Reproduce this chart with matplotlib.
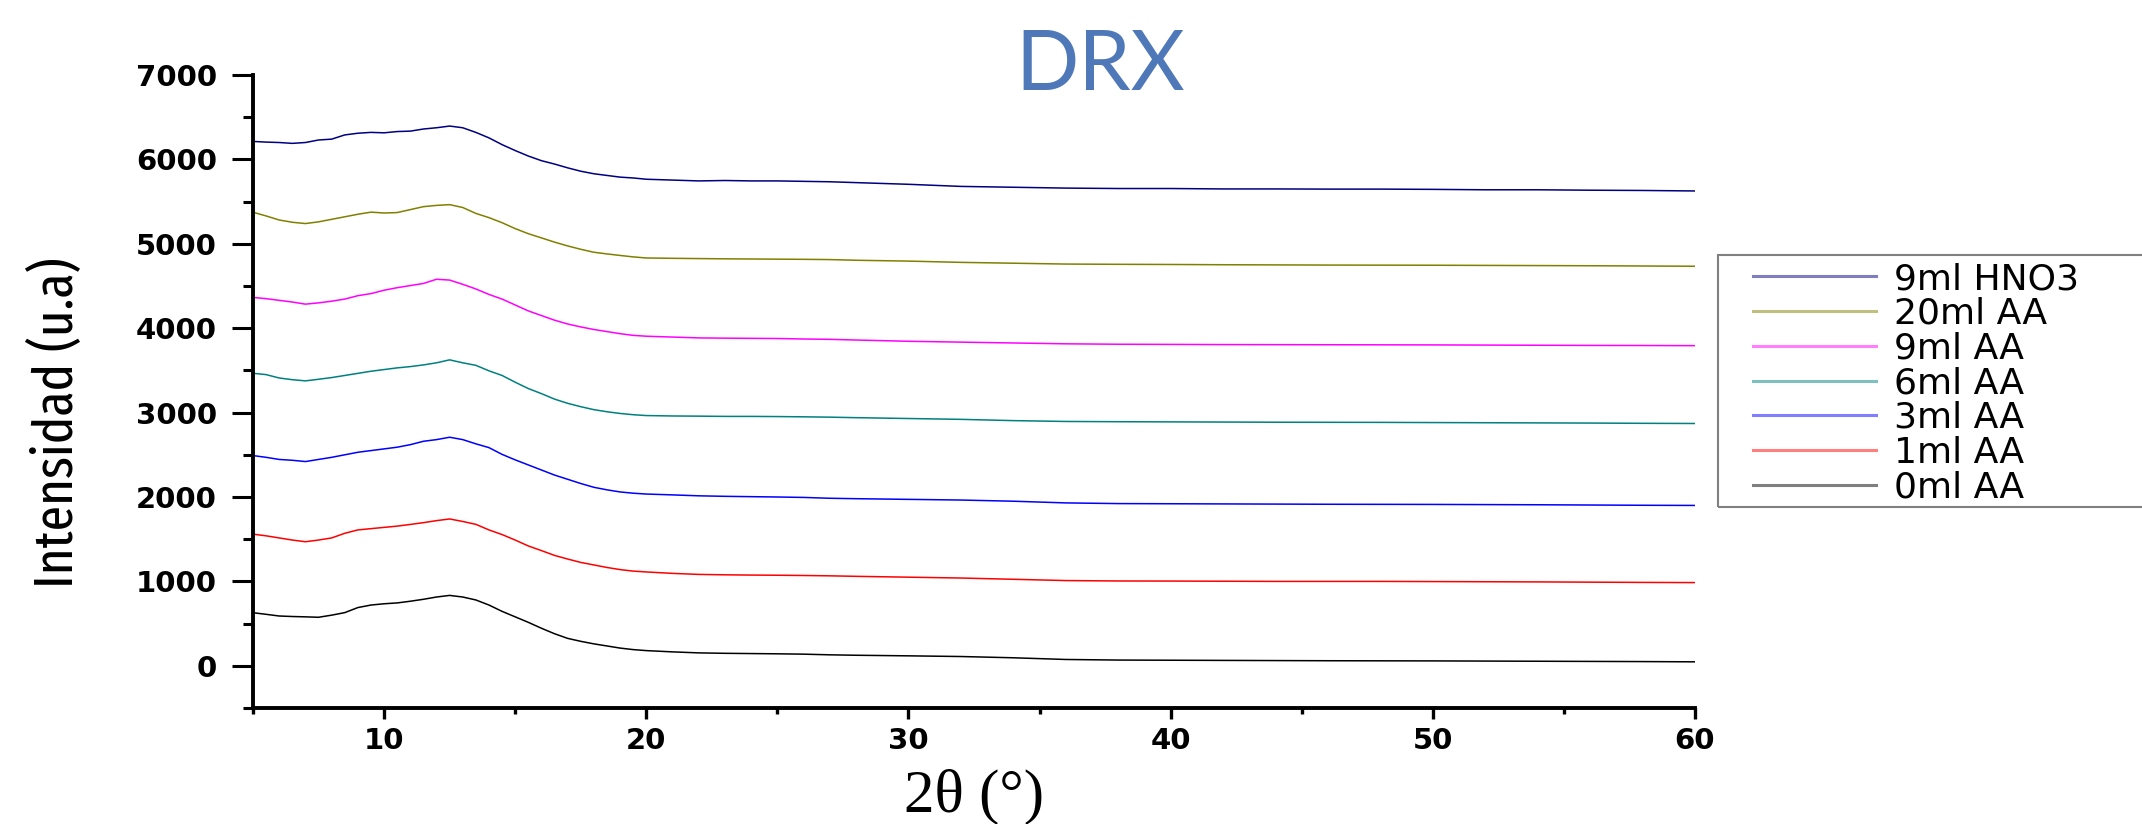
import os
import matplotlib
matplotlib.use("Agg")
import matplotlib.pyplot as plt
from matplotlib import font_manager
from matplotlib.font_manager import FontProperties
from matplotlib.ticker import MultipleLocator
from matplotlib.patches import Rectangle

# ---------------- data ----------------
two_theta = [5, 5.5, 6, 6.5, 7, 7.5, 8, 8.5, 9, 9.5, 10, 10.5, 11, 11.5, 12, 12.5,
             13, 13.5, 14, 14.5, 15, 15.5, 16, 16.5, 17, 17.5, 18, 18.5, 19, 19.5, 20,
             21, 22, 23, 24, 25, 26, 27, 28,
             30, 32, 34, 36, 38, 40, 42, 44, 46, 48, 50, 52, 54, 56, 58, 60]

aa_0ml = [629, 610, 590, 584, 580, 575, 600, 630, 690, 720, 735, 745, 765, 788, 815, 834,
          815, 780, 720, 645, 580, 515, 445, 380, 325, 290, 260, 235, 210, 192, 180,
          165, 153, 148, 145, 142, 138, 130, 125,
          118, 110, 95, 75, 68, 66, 64, 62, 60, 59, 58, 56, 54, 52, 50, 47]

aa_1ml = [1560, 1540, 1515, 1490, 1470, 1490, 1515, 1570, 1610, 1625, 1640, 1655, 1675, 1696, 1720, 1740,
          1710, 1676, 1610, 1555, 1490, 1420, 1365, 1308, 1265, 1225, 1195, 1165, 1140, 1122, 1112,
          1095, 1083, 1078, 1075, 1073, 1070, 1066, 1060,
          1050, 1040, 1025, 1010, 1005, 1004, 1002, 1000, 1000, 1000, 998, 996, 994, 991, 988, 986]

aa_3ml = [2491, 2470, 2445, 2435, 2420, 2445, 2470, 2500, 2530, 2550, 2570, 2590, 2620, 2660, 2680, 2708,
          2680, 2630, 2585, 2505, 2440, 2380, 2320, 2260, 2210, 2160, 2115, 2085, 2060, 2045, 2035,
          2025, 2014, 2008, 2004, 2000, 1995, 1985, 1980,
          1972, 1964, 1950, 1930, 1922, 1920, 1918, 1916, 1914, 1913, 1912, 1910, 1908, 1905, 1902, 1900]

aa_6ml = [3466, 3450, 3410, 3390, 3376, 3395, 3415, 3440, 3465, 3490, 3510, 3530, 3545, 3565, 3590, 3625,
          3590, 3560, 3495, 3440, 3360, 3285, 3225, 3160, 3110, 3070, 3035, 3010, 2990, 2975, 2965,
          2960, 2958, 2955, 2955, 2953, 2950, 2946, 2940,
          2930, 2920, 2905, 2895, 2892, 2890, 2888, 2886, 2885, 2884, 2882, 2880, 2878, 2876, 2873, 2871]

aa_9ml = [4365, 4350, 4330, 4310, 4285, 4300, 4320, 4345, 4385, 4410, 4450, 4480, 4505, 4530, 4580, 4570,
          4520, 4465, 4400, 4345, 4275, 4205, 4150, 4095, 4050, 4015, 3985, 3960, 3935, 3915, 3905,
          3895, 3885, 3882, 3880, 3878, 3872, 3868, 3860,
          3845, 3835, 3825, 3815, 3810, 3808, 3806, 3805, 3804, 3803, 3802, 3800, 3798, 3796, 3795, 3793]

aa_20ml = [5374, 5330, 5282, 5255, 5240, 5260, 5290, 5320, 5350, 5375, 5365, 5370, 5405, 5440, 5455, 5464,
           5430, 5360, 5310, 5250, 5180, 5120, 5070, 5020, 4975, 4935, 4900, 4880, 4862, 4845, 4832,
           4828, 4825, 4822, 4820, 4818, 4816, 4813, 4805,
           4795, 4780, 4770, 4760, 4757, 4755, 4752, 4750, 4748, 4747, 4746, 4744, 4742, 4740, 4737, 4734]

hno3_9ml = [6213, 6205, 6200, 6190, 6200, 6230, 6240, 6290, 6310, 6320, 6315, 6330, 6335, 6360, 6375, 6395,
            6375, 6320, 6255, 6175, 6105, 6040, 5985, 5945, 5900, 5860, 5830, 5810, 5790, 5780, 5765,
            5755, 5745, 5750, 5745, 5745, 5740, 5735, 5725,
            5705, 5680, 5670, 5660, 5655, 5655, 5650, 5650, 5648, 5648, 5645, 5640, 5640, 5635, 5632, 5626]

series_labels = ["0ml AA", "1ml AA", "3ml AA", "6ml AA", "9ml AA", "20ml AA", "9ml HNO3"]
series_values = [aa_0ml, aa_1ml, aa_3ml, aa_6ml, aa_9ml, aa_20ml, hno3_9ml]
series_colors = ["#000000", "#FF0000", "#0000FF", "#008080", "#FF00FF", "#808000", "#000080"]

x_ticks = [10, 20, 30, 40, 50, 60]
y_ticks = [0, 1000, 2000, 3000, 4000, 5000, 6000, 7000]

# ---------------- fonts ----------------
names = {f.name for f in font_manager.fontManager.ttflist}


def pick_narrow():
    best = None
    for f in font_manager.fontManager.ttflist:
        fn = os.path.basename(f.fname).lower().replace("-", "").replace("_", "")
        nm = f.name.lower()
        if f.style != "normal":
            continue
        if any(k in fn for k in ("bold", "light", "thin", "black", "medium", "semi", "mono")):
            continue
        if "serif" in fn and "sans" not in fn:
            continue
        if "extracondensed" in fn:
            rank = 0
        elif "narrow" in fn or "narrow" in nm:
            rank = 1
        elif "condensed" in fn or "condensed" in nm or str(f.stretch) == "condensed":
            rank = 2
        else:
            continue
        if best is None or rank < best[0]:
            best = (rank, f.fname)
    return best[1] if best else None


narrow_path = pick_narrow()
tick_family = "DejaVu Sans"
serif_family = "Liberation Serif" if "Liberation Serif" in names else "DejaVu Serif"
title_family = "Lato" if "Lato" in names else "DejaVu Sans"

# ---------------- figure ----------------
W, H = 2142, 824
fig = plt.figure(figsize=(W / 100, H / 100), dpi=100)
fig.patch.set_facecolor("white")

ax_l, ax_r, ax_t, ax_b = 253, 1695, 75, 708
ax = fig.add_axes([ax_l / W, 1 - ax_b / H, (ax_r - ax_l) / W, (ax_b - ax_t) / H])

for vals, lab, col in zip(series_values, series_labels, series_colors):
    ax.plot(two_theta, vals, color=col, lw=1.1, label=lab)

ax.set_xlim(5, 60)
ax.set_ylim(-500, 7000)
ax.set_xticks(x_ticks)
ax.set_yticks(y_ticks)
ax.xaxis.set_minor_locator(MultipleLocator(5))
ax.yaxis.set_minor_locator(MultipleLocator(500))

for s in ["top", "right"]:
    ax.spines[s].set_visible(False)
for s in ["left", "bottom"]:
    ax.spines[s].set_linewidth(2.8)

ax.tick_params(axis="y", which="major", direction="out", length=15, width=2.2,
               labelsize=21, pad=11)
ax.tick_params(axis="y", which="minor", direction="out", length=7.5, width=2.2)
ax.tick_params(axis="x", which="major", direction="out", length=8, width=2.4,
               labelsize=21, pad=6)
ax.tick_params(axis="x", which="minor", direction="out", length=4.5, width=2.4)
for lbl in ax.get_xticklabels() + ax.get_yticklabels():
    lbl.set_family(tick_family)
    lbl.set_fontweight("bold")

ax.set_xlabel("2θ (°)", fontsize=44, family=serif_family)
ax.xaxis.set_label_coords(0.5, -(797 - ax_b) / (ax_b - ax_t))
ax.xaxis.label.set_verticalalignment("center")

if narrow_path:
    yprop = FontProperties(fname=narrow_path, size=46)
else:
    yprop = FontProperties(family="DejaVu Sans", stretch="condensed", size=46)
ax.set_ylabel("Intensidad (u.a)", fontproperties=yprop)
ax.yaxis.set_label_coords((57 - ax_l) / (ax_r - ax_l), (ax_b - 423) / (ax_b - ax_t))
ax.yaxis.label.set_verticalalignment("center")
ax.yaxis.label.set_horizontalalignment("center")

# title
fig.text(1100 / W, 1 - 90 / H, "DRX", fontsize=60, color="#4F78B8",
         family=title_family, ha="center", va="baseline")

# legend (reverse order, top = 9ml HNO3)
handles, labels = ax.get_legend_handles_labels()
leg = ax.legend(handles[::-1], labels[::-1], loc="upper left",
                bbox_to_anchor=(1753 / W, 1 - 262 / H), bbox_transform=fig.transFigure,
                frameon=False, handlelength=3.4, handletextpad=0.5,
                labelspacing=0.02, borderpad=0, borderaxespad=0,
                prop={"family": tick_family, "size": 26})
for ln in leg.get_lines():
    ln.set_linewidth(2.2)
    ln.set_alpha(0.5)

fig.add_artist(Rectangle((1718 / W, 1 - 507 / H), (2160 - 1718) / W, (507 - 255) / H,
                         transform=fig.transFigure, fill=False, edgecolor="#808080",
                         lw=1.5, clip_on=False))

# fit the y label length to the reference (about 330 px tall)
fig.canvas.draw()
ext = ax.yaxis.label.get_window_extent(fig.canvas.get_renderer())
if ext.height > 0:
    yprop.set_size(yprop.get_size() * 330.0 / ext.height)
    ax.yaxis.label.set_fontproperties(yprop)

fig.savefig("out.png", dpi=100)
